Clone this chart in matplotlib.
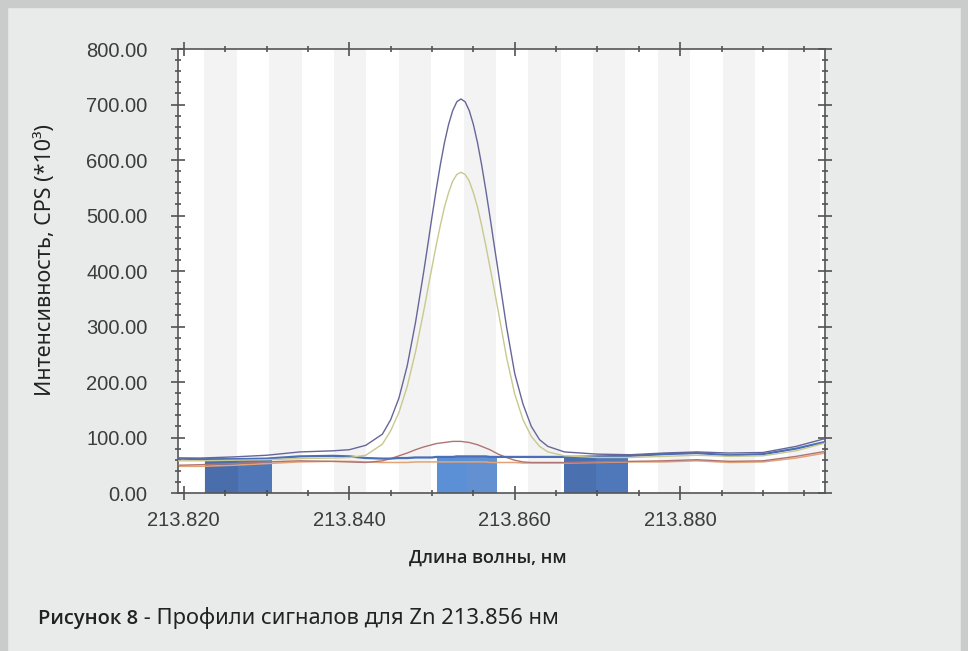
import numpy as np
import matplotlib.pyplot as plt
from matplotlib.patches import Rectangle
from matplotlib.text import Annotation
from matplotlib.ticker import MultipleLocator, FormatStrFormatter

# длины волн (нм)
wl = [213.8193, 213.822, 213.826, 213.830, 213.834, 213.838, 213.840, 213.842,
      213.844, 213.845, 213.846, 213.847, 213.848, 213.849, 213.8495, 213.850,
      213.8505, 213.851, 213.8515, 213.852, 213.8525, 213.853, 213.8535, 213.854,
      213.8545, 213.855, 213.8555, 213.856, 213.8565, 213.857, 213.8575, 213.858,
      213.859, 213.860, 213.861, 213.862, 213.863, 213.864, 213.866, 213.870,
      213.874, 213.878, 213.882, 213.886, 213.890, 213.894, 213.8975]

# профили сигналов (CPS * 10^3)
s_purple = [63, 63, 65, 68, 74, 76, 78, 86, 106, 132, 171, 229, 307, 399, 448, 498,
            546, 591, 631, 664, 689, 705, 710, 705, 689, 664, 631, 591, 546, 498, 448, 399,
            300, 215, 160, 120, 96, 84, 74, 70, 69, 72, 74, 72, 73, 84, 98]
s_olive = [58, 58, 59, 60, 62, 63, 64, 68, 88, 112, 145, 192, 254, 328, 368, 407,
           446, 482, 515, 541, 562, 574, 578, 574, 562, 541, 515, 482, 446, 407, 368, 328,
           245, 178, 132, 102, 84, 74, 67, 64, 64, 66, 68, 66, 67, 76, 90]
s_red = [50, 51, 53, 56, 58, 57, 56, 55, 58, 62, 67, 72, 78, 83, 85, 87,
         89, 90, 91, 92, 93, 93, 93, 92, 91, 89, 87, 84, 81, 78, 74, 70,
         64, 59, 56, 55, 55, 55, 55, 56, 57, 58, 60, 57, 58, 66, 75]
s_blue = [62, 61, 61, 62, 66, 67, 66, 63, 62, 62, 63, 63, 64, 64, 64, 64,
          65, 65, 65, 65, 65, 66, 66, 66, 66, 66, 66, 66, 66, 65, 65, 65,
          65, 65, 65, 65, 65, 65, 65, 66, 67, 70, 72, 68, 70, 80, 92]
s_orange = [48, 48, 50, 53, 56, 57, 57, 56, 55, 55, 55, 55, 56, 56, 56, 56,
            56, 56, 56, 56, 56, 56, 56, 56, 56, 56, 56, 56, 56, 55, 55, 55,
            55, 55, 54, 54, 54, 54, 54, 55, 56, 56, 58, 55, 56, 63, 72]

# области коррекции фона
bg_left = [213.8226, 213.8506, 213.8659]
bg_right = [213.8306, 213.8578, 213.8737]
bg_height = [61, 67, 65]
bg_colors = [('#4a6eab', '#5078b8'), ('#5b8fd6', '#6390d0'), ('#4a70b0', '#4f78ba')]

fig = plt.figure(figsize=(9.68, 6.51), dpi=100)
fig.patch.set_facecolor('#e8ebea')
# рамка
fig.add_artist(Rectangle((0, 0.989), 1, 0.011, transform=fig.transFigure,
                         color='#c9cccb', zorder=0))
fig.add_artist(Rectangle((0, 0), 0.007, 1, transform=fig.transFigure,
                         color='#c9cccb', zorder=0))
fig.add_artist(Rectangle((0.993, 0), 0.007, 1, transform=fig.transFigure,
                         color='#c9cccb', zorder=0))

ax = fig.add_axes([0.1839, 0.2427, 0.6684, 0.682])
ax.set_facecolor('white')

# полосы пикселей
for x0 in np.arange(213.8225, 213.8975, 0.00783):
    ax.axvspan(x0, x0 + 0.0039, color='#f3f3f3', lw=0, zorder=0)

for l, r, h, (c1, c2) in zip(bg_left, bg_right, bg_height, bg_colors):
    m = (l + r) / 2
    ax.add_patch(Rectangle((l, 0), m - l, h, color=c1, lw=0, zorder=1))
    ax.add_patch(Rectangle((m, 0), r - m, h, color=c2, lw=0, zorder=1))

ax.plot(wl, s_orange, color='#e2a577', lw=1.1, zorder=2)
ax.plot(wl, s_red, color='#b07474', lw=1.0, zorder=3)
ax.plot(wl, s_blue, color='#4a6fb6', lw=1.6, zorder=3)
ax.plot(wl, s_olive, color='#c9c88e', lw=1.0, zorder=4)
ax.plot(wl, s_purple, color='#66669a', lw=1.0, zorder=5)

ax.set_xlim(213.8193, 213.8975)
ax.set_ylim(0, 800)
ax.xaxis.set_major_locator(MultipleLocator(0.02))
ax.xaxis.set_minor_locator(MultipleLocator(0.005))
ax.yaxis.set_major_locator(MultipleLocator(100))
ax.yaxis.set_minor_locator(MultipleLocator(20))
ax.xaxis.set_major_formatter(FormatStrFormatter('%.3f'))
ax.yaxis.set_major_formatter(FormatStrFormatter('%.2f'))

for sp in ax.spines.values():
    sp.set_color('#555555')
    sp.set_linewidth(1.2)

ax.tick_params(which='both', top=True, right=True, color='#444444', width=1.1,
               labelcolor='#3c3c3c', labelfontfamily='Liberation Sans', labelsize=14.5)
ax.tick_params(which='major', direction='inout', length=10)
ax.tick_params(which='minor', direction='inout', length=5)
ax.tick_params(axis='y', which='major', pad=17)
ax.tick_params(axis='x', which='major', pad=8)

fig.text(0.047, 0.60, 'Интенсивность, CPS (*10³)', rotation=90, ha='center',
         va='center', fontsize=15.5, family=['Noto Sans', 'DejaVu Sans'], color='#222222')
fig.text(0.504, 0.144, 'Длина волны, нм', ha='center', va='center', fontsize=13,
         family='Open Sans', weight='semibold', color='#222222')
t1 = fig.text(0.039, 0.042, 'Рисунок 8', ha='left', va='baseline', fontsize=14.5,
              family='Open Sans', weight='semibold', color='#222222')
fig.add_artist(Annotation(' - Профили сигналов для Zn 213.856 нм', xy=(1, 0),
                          xycoords=t1, ha='left', va='bottom', fontsize=15.8,
                          family='Noto Sans', color='#222222'))

fig.savefig('out.png', dpi=100, facecolor=fig.get_facecolor())
